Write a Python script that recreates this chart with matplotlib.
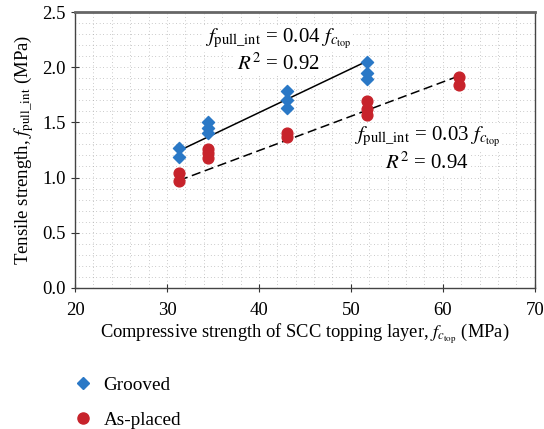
import matplotlib.pyplot as plt
import numpy as np
from matplotlib.lines import Line2D

plt.rcParams['font.family'] = ['Liberation Serif', 'DejaVu Serif']
plt.rcParams['mathtext.fontset'] = 'stix'

# Grooved specimens
grooved_x = [31.3, 31.3, 34.5, 34.5, 34.5, 43.0, 43.0, 43.0, 51.7, 51.7, 51.7]
grooved_y = [1.27, 1.19, 1.50, 1.45, 1.40, 1.78, 1.70, 1.63, 2.05, 1.95, 1.89]

# As-placed specimens
placed_x = [31.3, 31.3, 34.5, 34.5, 34.5, 43.0, 43.0, 51.7, 51.7, 51.7, 61.8, 61.8]
placed_y = [1.04, 0.97, 1.26, 1.22, 1.18, 1.40, 1.37, 1.69, 1.62, 1.57, 1.91, 1.84]

# fitted lines (through origin)
fit_grooved_x = [31.3, 51.7]
fit_grooved_slope = 0.0397
fit_placed_x = [31.3, 61.8]
fit_placed_slope = 0.0311

blue = '#2a78c6'
red = '#c7232b'

fig = plt.figure(figsize=(5.44, 4.29), dpi=100)
ax = fig.add_axes([0.138, 0.329, 0.845, 0.643])

# dotted background grid
ax.set_xticks(np.arange(20, 71, 2), minor=True)
ax.set_yticks(np.arange(0, 2.51, 0.1), minor=True)
ax.grid(which='both', color='#9a9a9a', linestyle=(0, (1, 4)), linewidth=0.5)
ax.set_axisbelow(True)

ax.plot(fit_grooved_x, [fit_grooved_slope * v for v in fit_grooved_x], color='black', lw=1.1, zorder=2)
ax.plot(fit_placed_x, [fit_placed_slope * v for v in fit_placed_x], color='black', lw=1.1,
        linestyle=(0, (6, 3)), zorder=2)

ax.scatter(grooved_x, grooved_y, marker='D', s=38, color=blue, zorder=3)
ax.scatter(placed_x, placed_y, marker='o', s=60, color=red, zorder=3)

ax.set_xlim(20, 70)
ax.set_ylim(0, 2.5)
ax.set_xticks(np.arange(20, 71, 10))
ax.set_yticks(np.arange(0, 2.51, 0.5))
ax.yaxis.set_major_formatter(plt.FuncFormatter(lambda v, p: f"{v:.1f}"))
ax.tick_params(which='minor', length=0)
ax.tick_params(which='major', direction='inout', length=6, labelsize=13.5, color='#333333')
ax.tick_params(axis='x', pad=7)
for s in ax.spines.values():
    s.set_color('#444444')
    s.set_linewidth(1.0)
ax.spines['top'].set_linewidth(2.0)
ax.spines['top'].set_color('#666666')

ax.set_xlabel(r'Compressive strength of SCC topping layer, $f_{c_{\mathrm{top}}}$ (MPa)', fontsize=13.3, labelpad=2)
ax.set_ylabel(r'Tensile strength, $f_{\mathrm{pull\_int}}$ (MPa)', fontsize=13.5, labelpad=5)

box = dict(facecolor='white', edgecolor='none', pad=1)
ax.text(42.1, 2.26, r'$f_{\mathrm{pull\_int}}$ = 0.04 $f_{c_{\mathrm{top}}}$', fontsize=15,
        ha='center', va='center', bbox=box, zorder=4)
ax.text(42.1, 2.03, r'$R^2$ = 0.92', fontsize=15, ha='center', va='center', bbox=box, zorder=4)
ax.text(58.3, 1.37, r'$f_{\mathrm{pull\_int}}$ = 0.03 $f_{c_{\mathrm{top}}}$', fontsize=15,
        ha='center', va='center', bbox=box, zorder=4)
ax.text(58.3, 1.13, r'$R^2$ = 0.94', fontsize=15, ha='center', va='center', bbox=box, zorder=4)

handles = [Line2D([], [], marker='D', color=blue, linestyle='none', markersize=6),
           Line2D([], [], marker='o', color=red, linestyle='none', markersize=8)]
fig.legend(handles, ['Grooved', 'As-placed'], loc='upper left', bbox_to_anchor=(0.12, 0.14),
           frameon=False, fontsize=13.8, labelspacing=0.9, handletextpad=0.6, handlelength=1.0,
           borderaxespad=0)

fig.savefig('out.png', dpi=100)
